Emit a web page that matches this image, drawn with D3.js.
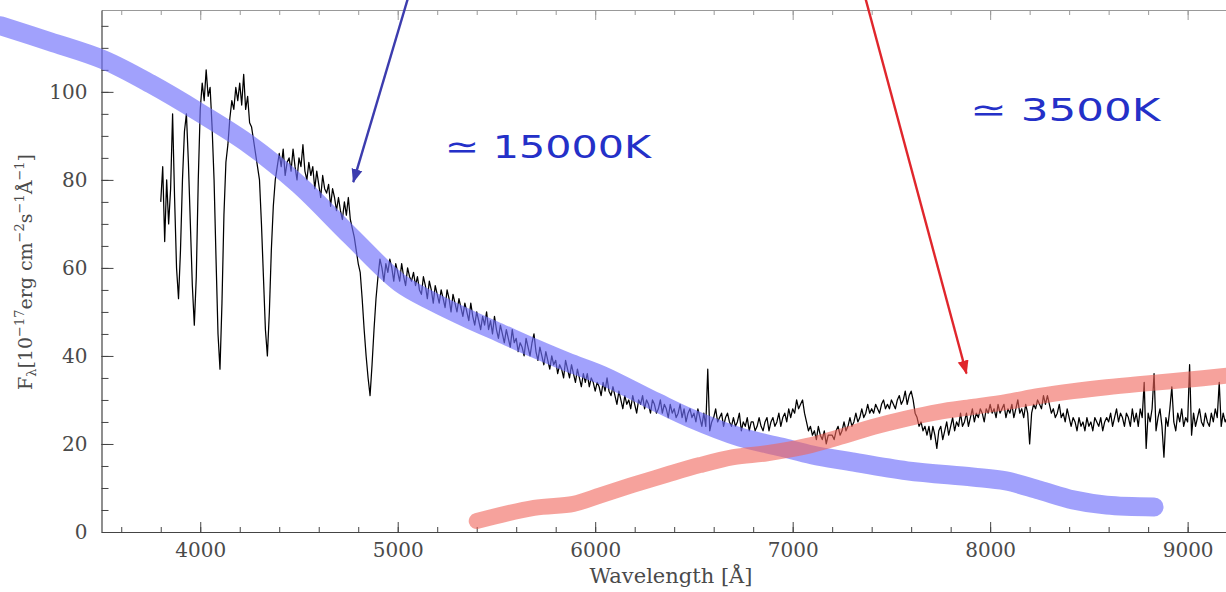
<!DOCTYPE html>
<html>
<head>
<meta charset="utf-8">
<script src="https://cdn.jsdelivr.net/npm/d3@7"></script>
<style>
  html, body { margin: 0; padding: 0; background: #fff; }
  svg { display: block; }
</style>
</head>
<body>
<div id="chart"></div>
<script>
// === DATA ===
// observed spectrum, sampled every 10 Å from 3800 Å
const specStart = 3800;
const specStep = 10;
const specFlux = [
    75, 83, 66, 80, 70, 78, 95, 76, 60, 53,
    64, 80, 91, 95, 84, 70, 56, 47, 58, 80,
    96, 102, 98, 105, 99, 101, 92, 80, 62, 45,
    37, 52, 72, 84, 88, 94, 98, 96, 101, 98,
    102, 97, 104, 96, 99, 93, 92, 89, 86, 83,
    80, 70, 58, 46, 40, 50, 64, 74, 80, 83,
    86, 83, 87, 81, 84, 85, 82, 87, 83, 80,
    85, 83, 88, 82, 80, 84, 81, 83, 78, 82,
    79, 76, 81, 78, 77, 79, 74, 78, 76, 73,
    76, 73, 71, 75, 72, 76, 71, 69, 67, 64,
    61, 59, 53, 46, 40, 35, 31, 38, 46, 53,
    58, 62, 60, 57, 61, 59, 62, 60, 57, 61,
    59, 57, 61, 58, 56, 60, 58, 57, 59, 56,
    58, 55, 54, 58, 56, 53, 57, 55, 52, 56,
    54, 52, 55, 53, 51, 55, 53, 50, 54, 52,
    50, 53, 51, 49, 52, 50, 48, 52, 49, 47,
    50, 48, 46, 49, 47, 50, 46, 48, 45, 49,
    46, 44, 47, 45, 43, 46, 44, 42, 46, 43,
    44, 41, 43, 42, 40, 44, 42, 40, 43, 45,
    41, 39, 42, 40, 38, 41, 39, 37, 40, 38,
    39, 36, 38, 37, 35, 39, 37, 35, 38, 36,
    34, 37, 35, 33, 36, 34, 36, 33, 35, 34,
    32, 34, 33, 31, 34, 32, 35, 32, 31, 33,
    31, 29, 32, 30, 28, 31, 29, 30, 28, 31,
    29, 27, 30, 29, 31, 28, 30, 29, 27, 30,
    29, 27, 28, 30, 27, 29, 28, 26, 29, 27,
    28, 26, 27, 29, 26, 28, 25, 27, 28, 26,
    27, 25, 28, 26, 24, 27, 24, 37, 23, 25,
    26, 28, 25, 26, 27, 24, 26, 27, 25, 24,
    26, 24, 25, 27, 23, 25, 24, 26, 23, 25,
    25, 23, 24, 26, 24, 23, 25, 26, 23, 25,
    26, 24, 25, 27, 24, 26, 27, 25, 28, 26,
    28, 27, 30, 28, 29, 30, 27, 25, 23, 24,
    22, 23, 21, 24, 22, 21, 23, 20, 22, 22,
    22, 21, 23, 24, 22, 23, 25, 23, 24, 26,
    24, 25, 27, 25, 26, 28, 26, 27, 29, 27,
    28, 27, 29, 28, 27, 29, 30, 28, 29, 28,
    30, 29, 28, 30, 31, 29, 30, 32, 29, 31,
    32, 30, 27, 26, 24, 25, 23, 24, 22, 24,
    21, 24, 22, 19, 23, 24, 21, 23, 25, 22,
    24, 26, 23, 25, 24, 27, 24, 25, 27, 24,
    26, 28, 25, 27, 26, 28, 27, 25, 28, 27,
    29, 27, 28, 26, 29, 27, 28, 29, 26, 28,
    27, 29, 26, 28, 30, 27, 28, 26, 29, 27,
    20, 27, 29, 28, 30, 29, 28, 31, 29, 31,
    29, 27, 28, 26, 27, 29, 26, 27, 25, 28,
    26, 24, 26, 25, 23, 26, 24, 25, 23, 26,
    24, 25, 23, 26, 25, 24, 26, 23, 25, 26,
    25, 27, 24, 26, 28, 25, 27, 26, 24, 27,
    26, 24, 28, 25, 27, 24, 28, 26, 34, 19,
    27, 25, 28, 36, 23, 26, 28, 24, 17, 26,
    24, 28, 33, 25, 23, 27, 25, 28, 24, 26,
    25, 38, 22, 27, 24, 26, 28, 25, 24, 27,
    25, 24, 27, 25, 28, 26, 34, 24, 27, 25,
    26
];

// hot blackbody (blue band)
const blueLambda = [2990, 3240, 3510, 3750, 4000, 4250, 4500, 4760, 5010, 5180, 5350, 5520, 5690, 5860, 6030, 6310, 6480, 6730, 6940, 7100, 7280, 7580, 7910, 8080, 8250, 8420, 8590, 8830];
const blueFlux = [115.0, 111.4, 107.3, 101.8, 95.2, 88.0, 78.9, 67.3, 56.6, 52.3, 48.6, 45.2, 41.8, 38.6, 35.7, 29.5, 25.9, 21.6, 19.3, 17.5, 16.1, 13.9, 12.5, 11.6, 9.5, 7.3, 6.1, 5.7];

// cool blackbody (red band)
const redLambda = [5400, 5690, 5890, 6030, 6190, 6360, 6530, 6700, 6870, 7070, 7240, 7410, 7570, 7740, 7910, 8080, 8250, 8420, 8590, 8750, 8930, 9260];
const redFlux = [2.5, 5.5, 6.4, 8.4, 10.7, 13.0, 15.2, 17.0, 17.9, 19.5, 21.6, 23.9, 25.7, 27.3, 28.4, 29.5, 30.9, 32.0, 32.9, 33.6, 34.3, 35.8];

// axis ticks
const xMajorTicks = [4000, 5000, 6000, 7000, 8000, 9000];
const yMajorTicks = [0, 20, 40, 60, 80, 100];

// hand-drawn notes: [lambda, flux]
const noteTexts = ["≃ 15000K", "≃ 3500K"];
const noteAnchors = [[5240, 85], [7900, 93.4]];
const arrowFrom = [[5050, 121], [7370, 121]];
const arrowTo = [[4775, 79.5], [7880, 36]];
const arrowColors = ["#3c3cae", "#e0262c"];

// === SCALES ===
const W = 1226, H = 592;
const x = d3.scaleLinear().domain([3500, 9250]).range([101.5, 1237]);
const y = d3.scaleLinear().domain([0, 118.6]).range([532, 10]);

const svg = d3.select("#chart").append("svg")
    .attr("width", W)
    .attr("height", H)
    .style("background", "#fff");

const serif = "'DejaVu Serif', serif";

// === AXES ===
function styleAxis(g, col) {
    g.selectAll("path.domain").attr("stroke", col).attr("stroke-width", 1.2);
    g.selectAll(".tick line").attr("stroke", col).attr("stroke-width", 1);
    g.selectAll(".tick text")
        .attr("font-family", serif)
        .attr("font-size", "20px")
        .attr("fill", "#4a4a4a");
}

// bottom
svg.append("g")
    .attr("transform", `translate(0,${y(0)})`)
    .call(d3.axisBottom(x).tickValues(d3.range(3600, 9250, 200)).tickSize(-5).tickFormat(""))
    .call(g => g.select(".domain").remove())
    .call(g => styleAxis(g, "#444"));
svg.append("g")
    .attr("transform", `translate(0,${y(0)})`)
    .call(d3.axisBottom(x).tickValues(xMajorTicks).tickSize(-10).tickSizeOuter(0).tickPadding(11).tickFormat(d3.format("d")))
    .call(g => styleAxis(g, "#444"));

// top (mirror, no labels)
svg.append("g")
    .attr("transform", `translate(0,${y.range()[1]})`)
    .call(d3.axisTop(x).tickValues(d3.range(3600, 9250, 200)).tickSize(-5).tickFormat(""))
    .call(g => g.select(".domain").remove())
    .call(g => styleAxis(g, "#999"));
svg.append("g")
    .attr("transform", `translate(0,${y.range()[1]})`)
    .call(d3.axisTop(x).tickValues(xMajorTicks).tickSize(-10).tickSizeOuter(0).tickFormat(""))
    .call(g => styleAxis(g, "#999"));

// left
svg.append("g")
    .attr("transform", `translate(${x(3500)},0)`)
    .call(d3.axisLeft(y).tickValues(d3.range(5, 118, 5)).tickSize(-7).tickFormat(""))
    .call(g => g.select(".domain").remove())
    .call(g => styleAxis(g, "#444"));
svg.append("g")
    .attr("transform", `translate(${x(3500)},0)`)
    .call(d3.axisLeft(y).tickValues(yMajorTicks).tickSize(-12).tickSizeOuter(0).tickPadding(14).tickFormat(d3.format("d")))
    .call(g => styleAxis(g, "#444"));

// axis titles
svg.append("text")
    .attr("x", 671)
    .attr("y", 583)
    .attr("text-anchor", "middle")
    .attr("font-family", serif)
    .attr("font-size", "21px")
    .attr("fill", "#4a4a4a")
    .text("Wavelength [Å]");

const ylab = svg.append("text")
    .attr("transform", "translate(32,272) rotate(-90)")
    .attr("text-anchor", "middle")
    .attr("font-family", serif)
    .attr("font-size", "19px")
    .attr("fill", "#4a4a4a");
[
    ["F", 0, 19], ["λ", 4, 13], ["[10", -4, 19], ["−17", -8, 13], ["erg cm", 8, 19],
    ["−2", -8, 13], ["s", 8, 19], ["−1", -8, 13], ["Å", 8, 19], ["−1", -8, 13], ["]", 8, 19]
].forEach(([t, dy, fs]) => {
    ylab.append("tspan").attr("dy", dy).attr("font-size", fs + "px").text(t);
});

// === SPECTRUM ===
const spec = specFlux.map((f, i) => [specStart + i * specStep, f]);

svg.append("path")
    .datum(spec)
    .attr("fill", "none")
    .attr("stroke", "#000")
    .attr("stroke-width", 1.25)
    .attr("stroke-linejoin", "round")
    .attr("d", d3.line().x(d => x(d[0])).y(d => y(d[1])));

// === BLACKBODY BANDS ===
const band = d3.line().curve(d3.curveCatmullRom).x(d => x(d[0])).y(d => y(d[1]));

svg.append("path")
    .datum(d3.zip(blueLambda, blueFlux))
    .attr("fill", "none")
    .attr("stroke", "rgb(110,110,250)")
    .attr("stroke-opacity", 0.65)
    .attr("stroke-width", 19)
    .attr("stroke-linecap", "round")
    .attr("d", band);

svg.append("path")
    .datum(d3.zip(redLambda, redFlux))
    .attr("fill", "none")
    .attr("stroke", "rgb(240,100,90)")
    .attr("stroke-opacity", 0.6)
    .attr("stroke-width", 16)
    .attr("stroke-linecap", "round")
    .attr("d", band);

// === ANNOTATIONS ===
const defs = svg.append("defs");
arrowColors.forEach((c, i) => {
    defs.append("marker")
        .attr("id", "head" + i)
        .attr("markerUnits", "userSpaceOnUse")
        .attr("viewBox", "0 -6 14 12")
        .attr("refX", 13)
        .attr("refY", 0)
        .attr("markerWidth", 14)
        .attr("markerHeight", 12)
        .attr("orient", "auto")
        .append("path")
        .attr("d", "M0,-5.5L14,0L0,5.5Z")
        .attr("fill", c);
});

arrowFrom.forEach((p, i) => {
    svg.append("line")
        .attr("x1", x(p[0])).attr("y1", y(p[1]))
        .attr("x2", x(arrowTo[i][0])).attr("y2", y(arrowTo[i][1]))
        .attr("stroke", arrowColors[i])
        .attr("stroke-width", 2.4)
        .attr("marker-end", `url(#head${i})`);
});

noteTexts.forEach((t, i) => {
    svg.append("text")
        .attr("x", x(noteAnchors[i][0]))
        .attr("y", y(noteAnchors[i][1]))
        .attr("font-family", "'DejaVu Sans', sans-serif")
        .attr("font-size", "32px")
        .attr("fill", "#2430c8")
        .attr("textLength", i === 0 ? 206 : 190)
        .attr("lengthAdjust", "spacingAndGlyphs")
        .text(t);
});
</script>
</body>
</html>
